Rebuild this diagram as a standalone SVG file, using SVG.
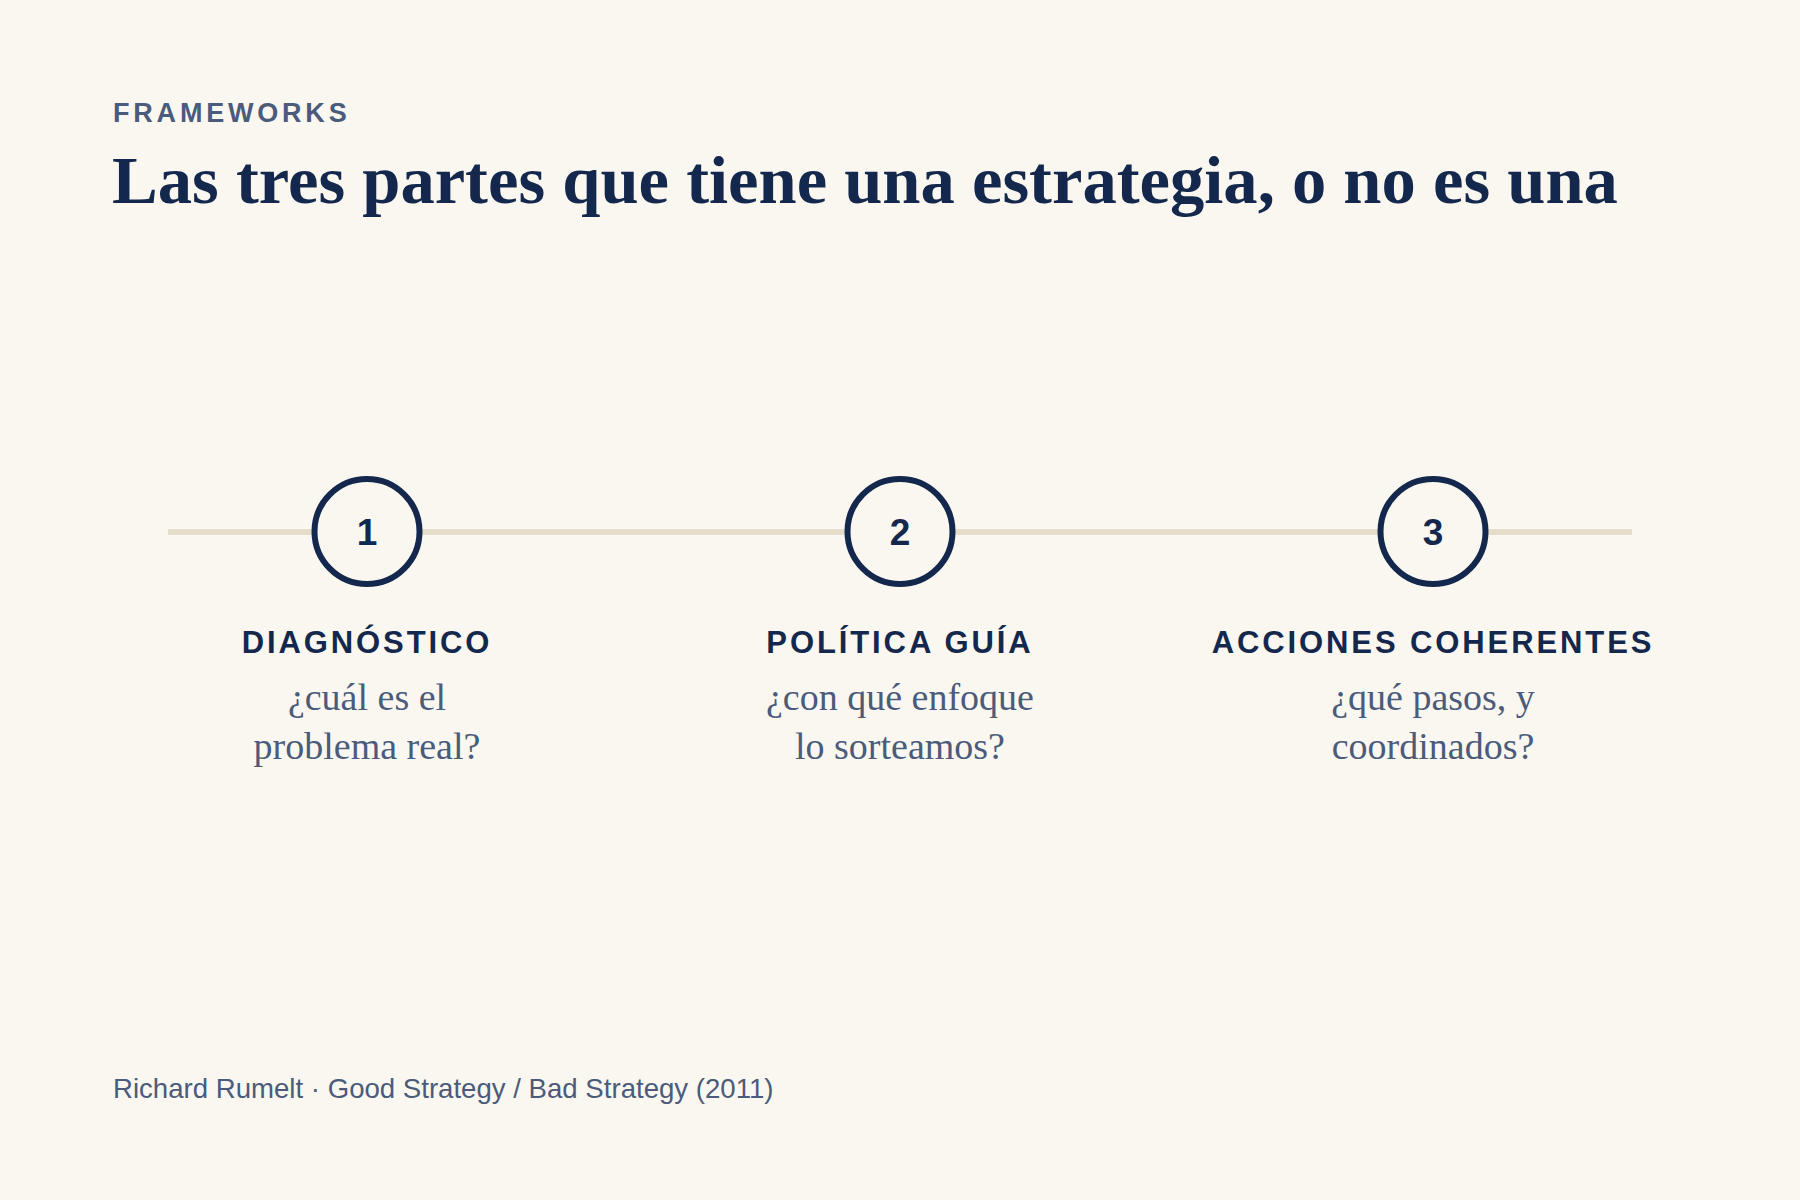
<svg xmlns="http://www.w3.org/2000/svg" width="1800" height="1200" viewBox="0 0 1800 1200">
  <style>
    .eyebrow { font-family: "Liberation Sans", Arial, sans-serif; font-weight: 700; font-size: 27px; letter-spacing: 3.8px; fill: #4b5b7b; }
    .title { font-family: "Liberation Serif", "Times New Roman", serif; font-weight: 700; font-size: 68.6px; fill: #14284d; }
    .num { font-family: "Liberation Sans", Arial, sans-serif; font-weight: 700; font-size: 37px; fill: #14284d; text-anchor: middle; }
    .label { font-family: "Liberation Sans", Arial, sans-serif; font-weight: 700; font-size: 31px; letter-spacing: 2.9px; fill: #14284d; text-anchor: middle; }
    .sub { font-family: "Liberation Serif", "Times New Roman", serif; font-size: 38px; fill: #4b5b7b; text-anchor: middle; }
    .foot { font-family: "Liberation Sans", Arial, sans-serif; font-size: 27.6px; fill: #4b5b7b; }
    .ring { fill: #f9f7f0; stroke: #14284d; stroke-width: 6; }
    .track { stroke: #e4ddc9; stroke-width: 6; stroke-linecap: butt; }
  </style>
  <rect width="1800" height="1200" fill="#f9f7f0"/>
  <text class="eyebrow" x="113" y="122">FRAMEWORKS</text>
  <text class="title" x="112" y="203">Las tres partes que tiene una estrategia, o no es una</text>
  <g id="connectors">
    <line class="track" x1="168" y1="532" x2="1632" y2="532"/>
  </g>
  <g id="node-1">
    <circle class="ring" cx="367" cy="531.5" r="52.5"/>
    <text class="num" x="367" y="545">1</text>
    <text class="label" x="367" y="653">DIAGNÓSTICO</text>
    <text class="sub" x="367" y="710">¿cuál es el</text>
    <text class="sub" x="367" y="759">problema real?</text>
  </g>
  <g id="node-2">
    <circle class="ring" cx="900" cy="531.5" r="52.5"/>
    <text class="num" x="900" y="545">2</text>
    <text class="label" x="900" y="653">POLÍTICA GUÍA</text>
    <text class="sub" x="900" y="710">¿con qué enfoque</text>
    <text class="sub" x="900" y="759">lo sorteamos?</text>
  </g>
  <g id="node-3">
    <circle class="ring" cx="1433" cy="531.5" r="52.5"/>
    <text class="num" x="1433" y="545">3</text>
    <text class="label" x="1433" y="653">ACCIONES COHERENTES</text>
    <text class="sub" x="1433" y="710">¿qué pasos, y</text>
    <text class="sub" x="1433" y="759">coordinados?</text>
  </g>
  <text class="foot" x="113" y="1098">Richard Rumelt · Good Strategy / Bad Strategy (2011)</text>
</svg>
